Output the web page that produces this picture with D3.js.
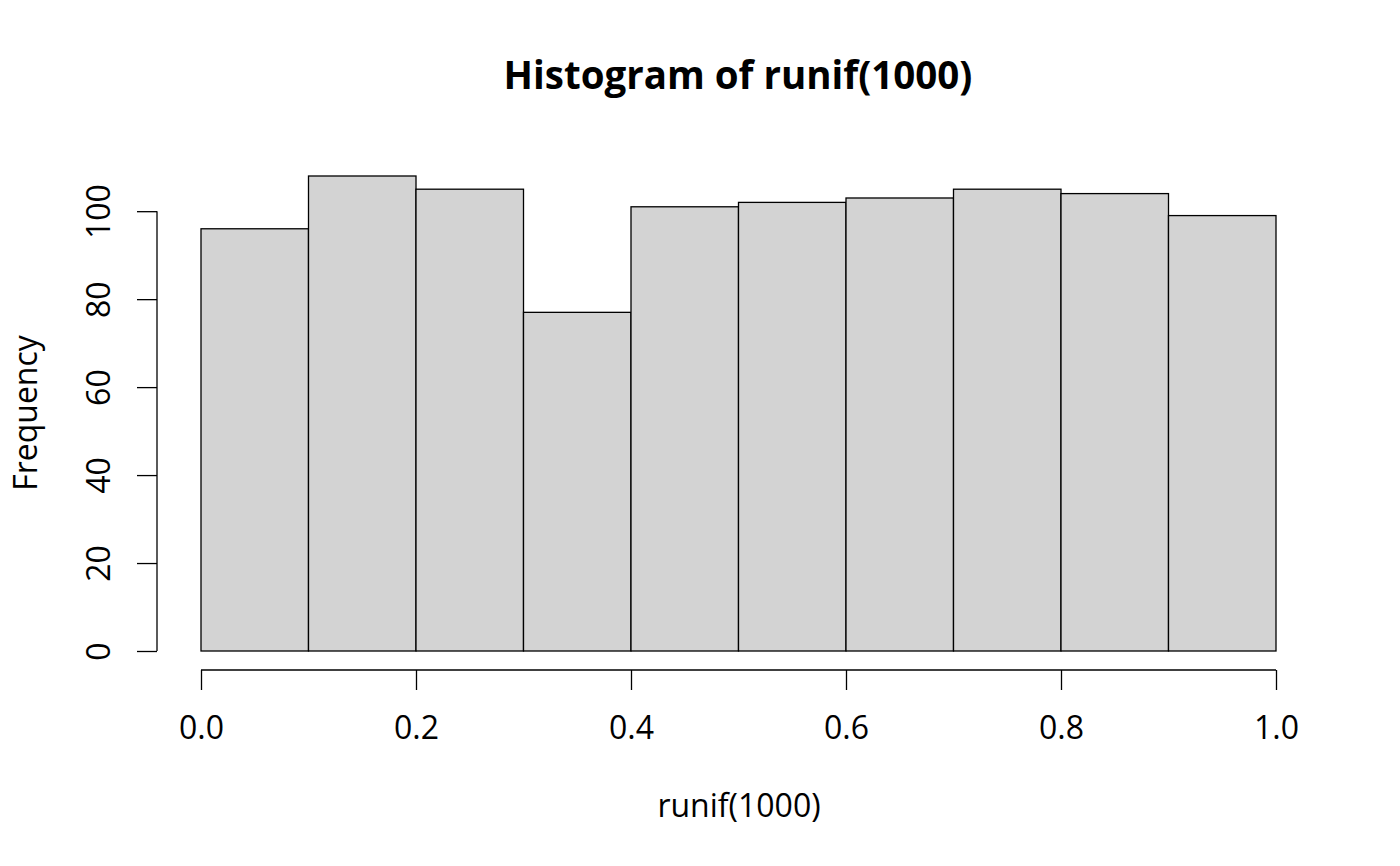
<!DOCTYPE html>
<html>
<head>
<meta charset="utf-8">
<script src="https://cdn.jsdelivr.net/npm/d3@7"></script>
<style>
  html, body { margin: 0; padding: 0; background: #fff; }
  svg text { font-family: "Open Sans", "Noto Sans", sans-serif; fill: #000; }
</style>
</head>
<body>
<svg id="chart" width="1400" height="866"></svg>
<script>
// Data
const breaks = [0.0, 0.1, 0.2, 0.3, 0.4, 0.5, 0.6, 0.7, 0.8, 0.9, 1.0];
const counts = [96, 108, 105, 77, 101, 102, 103, 105, 104, 99];
const xTicks = [0.0, 0.2, 0.4, 0.6, 0.8, 1.0];
const yTicks = [0, 20, 40, 60, 80, 100];
const title = "Histogram of runif(1000)";
const xLabel = "runif(1000)";
const yLabel = "Frequency";

const svg = d3.select("#chart");

// plot region (R style: 4% extension of ranges)
const x = d3.scaleLinear().domain([-0.04, 1.04]).range([158, 1319]);
const y = d3.scaleLinear().domain([-4.32, 112.32]).range([670, 157]);

const bins = counts.map((c, i) => ({ x0: breaks[i], x1: breaks[i + 1], n: c }));

svg.append("g").selectAll("rect").data(bins).join("rect")
  .attr("x", d => x(d.x0))
  .attr("y", d => y(d.n))
  .attr("width", d => x(d.x1) - x(d.x0))
  .attr("height", d => y(0) - y(d.n))
  .attr("fill", "#d3d3d3")
  .attr("stroke", "#000")
  .attr("stroke-width", 1.3);

// X axis
const xAxis = d3.axisBottom(x).tickValues(xTicks).tickFormat(d3.format(".1f"))
  .tickSize(20).tickPadding(0).tickSizeOuter(0);
const gx = svg.append("g").attr("transform", "translate(0,670)").call(xAxis);
gx.select(".domain").remove();
gx.append("line").attr("x1", x(0)).attr("x2", x(1)).attr("y1", 0).attr("y2", 0)
  .attr("stroke", "#000").attr("stroke-width", 1.3);
gx.selectAll(".tick line").attr("stroke", "#000").attr("stroke-width", 1.3);
gx.selectAll(".tick text").attr("y", 69).attr("dy", null)
  .style("font-size", "32px").style("font-family", '"Open Sans", sans-serif').attr("fill", "#000");

// Y axis
const yAxis = d3.axisLeft(y).tickValues(yTicks).tickSize(20).tickSizeOuter(0);
const gy = svg.append("g").attr("transform", "translate(157,0)").call(yAxis);
gy.select(".domain").remove();
gy.append("line").attr("x1", 0).attr("x2", 0).attr("y1", y(0)).attr("y2", y(100))
  .attr("stroke", "#000").attr("stroke-width", 1.3);
gy.selectAll(".tick line").attr("stroke", "#000").attr("stroke-width", 1.3);
gy.selectAll(".tick text")
  .attr("x", null).attr("dy", null)
  .attr("text-anchor", "middle")
  .attr("transform", "translate(-47,0) rotate(-90)")
  .style("font-size", "32px").style("font-family", '"Open Sans", sans-serif').attr("fill", "#000");

// Title
svg.append("text").attr("x", 738).attr("y", 89).attr("text-anchor", "middle")
  .style("font-size", "38.5px").style("font-weight", "bold").text(title);

// Axis labels
svg.append("text").attr("x", 739).attr("y", 817).attr("text-anchor", "middle")
  .style("font-size", "32px").text(xLabel);
svg.append("text").attr("transform", "translate(37,413) rotate(-90)").attr("text-anchor", "middle")
  .style("font-size", "32px").text(yLabel);
</script>
</body>
</html>
